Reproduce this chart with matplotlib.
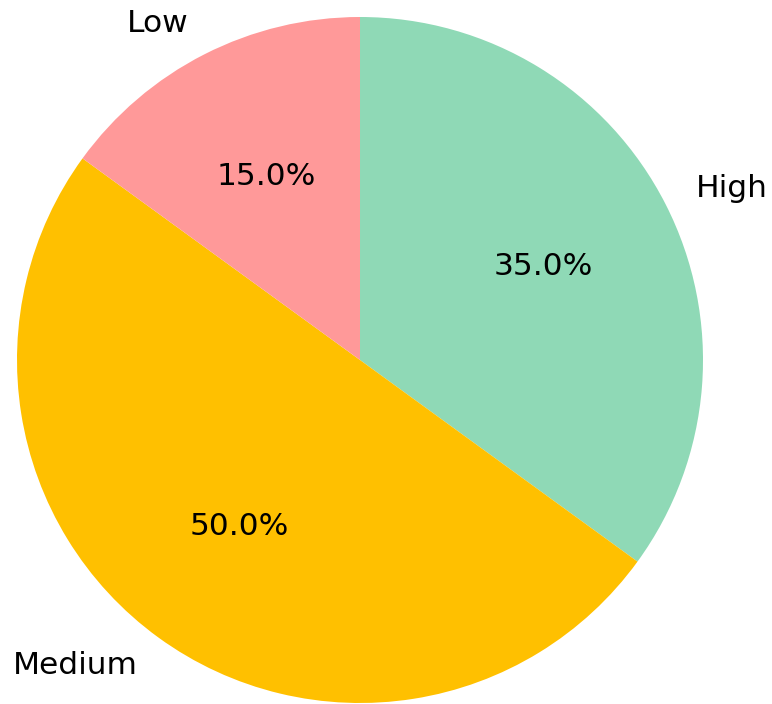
import matplotlib
matplotlib.use('Agg')
import matplotlib.pyplot as plt

# データ
labels = ['High', 'Medium', 'Low']
sizes = [35, 50, 15]
colors = ['#8fd9b6', '#ffc000', '#ff9999']

fig = plt.figure(figsize=(7.72, 7.04), dpi=100)
ax = fig.add_axes([0, 0, 1, 1])

ax.pie(sizes, labels=labels, colors=colors, autopct='%1.1f%%',
       startangle=90, counterclock=False,
       textprops={'fontsize': 22.5})

# 中心と半径を参照画像に合わせる
ax.set_xlim(-360 / 343, 412 / 343)
ax.set_ylim(-344 / 343, 360 / 343)
ax.axis('off')

plt.savefig('out.png', dpi=100)
plt.close()
